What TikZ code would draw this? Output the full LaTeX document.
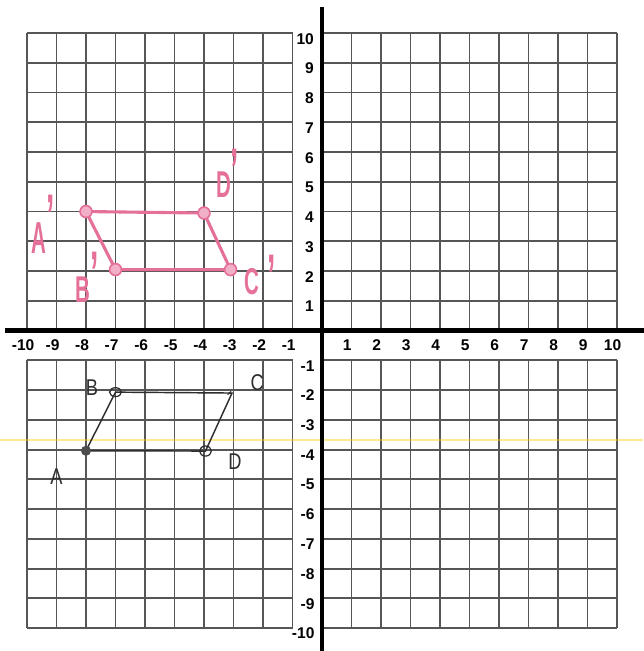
\documentclass[tikz,border=0pt]{standalone}
\usepackage{fontspec}
\setmainfont{Liberation Sans}
\definecolor{pinkpen}{HTML}{E5709A}
\definecolor{gridgray}{HTML}{565656}
\definecolor{pencil}{HTML}{2E2E2E}
\tikzset{
  gridline/.style={draw=gridgray, line width=1.8pt},
  axisline/.style={draw=black, line width=4.5pt},
  xlab/.style={font=\fontsize{15}{15}\selectfont\bfseries, inner sep=0pt, anchor=center},
  ylab/.style={font=\fontsize{15}{15}\selectfont\bfseries, inner sep=0pt, anchor=east},
  pinkedge/.style={draw=pinkpen, line width=3pt, line cap=round, line join=round},
  pinkdot/.style={draw=pinkpen, fill=pinkpen!55, line width=1.6pt},
  pinklab/.style={text=pinkpen, font=\fontsize{36}{36}\selectfont\bfseries, inner sep=0pt, xscale=0.55},
  pinkprime/.style={text=pinkpen, font=\fontsize{58}{58}\selectfont\bfseries, inner sep=0pt, xscale=0.5},
  penciledge/.style={draw=pencil, line width=1.4pt, line cap=round},
  pencillab/.style={text=pencil, font=\fontsize{22}{22}\selectfont, inner sep=0pt, xscale=0.8},
}
\begin{document}
\begin{tikzpicture}[x=1cm, y=1.0085cm]
\useasboundingbox (-10.915,-10.77) rectangle (10.88,11.11);
\fill[white] (-10.915,-10.77) rectangle (10.88,11.11);
% grid
\foreach \i in {-10,...,-1} {
  \draw[gridline] (\i,0) -- (\i,10);
  \draw[gridline] (\i,-1) -- (\i,-10);
}
\foreach \i in {1,...,10} {
  \draw[gridline] (\i,0) -- (\i,10);
  \draw[gridline] (\i,-1) -- (\i,-10);
}
\foreach \j in {1,...,10} {
  \draw[gridline] (-10,\j) -- (-1,\j);
  \draw[gridline] (0,\j) -- (10,\j);
  \draw[gridline] (-10,-\j) -- (-1,-\j);
  \draw[gridline] (0,-\j) -- (10,-\j);
}
% faint scanner streak
\draw[draw=yellow!70!orange, opacity=0.45, line width=1.2pt] (-10.915,-3.68) -- (10.88,-3.68);
% axes
\draw[axisline] (-10.75,0) -- (10.95,0);
\draw[axisline] (0,10.87) -- (0,-10.9);
% axis labels
\foreach \i in {1,...,10} {
  \node[xlab] (xp\i) at (\i-0.15,-0.49) {\i};
  \node[xlab] (xn\i) at (-\i-0.13,-0.49) {-\i};
  \node[ylab] (yp\i) at (-0.27,\i-0.19) {\i};
  \node[ylab] (yn\i) at (-0.25,-\i-0.18) {-\i};
}
% image A'B'C'D'
\coordinate (Ap) at (-8,4);
\coordinate (Bp) at (-7,2.05);
\coordinate (Cp) at (-3.1,2.05);
\coordinate (Dp) at (-4,3.95);
\draw[pinkedge] (Ap) -- (Dp) -- (Cp) -- (Bp) -- cycle;
\foreach \p in {Ap,Bp,Cp,Dp} \draw[pinkdot] (\p) circle (0.2);
\node[pinklab, yscale=1.2] (lA) at (-9.6,3.1) {A};
\node[pinkprime] (lAq) at (-9.2,3.85) {'};
\node[pinklab] (lB) at (-8.1,1.36) {B};
\node[pinkprime] (lBq) at (-7.72,1.95) {'};
\node[pinklab] (lC) at (-2.37,1.63) {C};
\node[pinkprime] (lCq) at (-1.7,1.85) {'};
\node[pinklab] (lD) at (-3.32,4.9) {D};
\node[pinkprime] (lDq) at (-2.95,5.4) {'};
% preimage ABCD
\coordinate (A) at (-8,-4.04);
\coordinate (B) at (-7,-2.07);
\coordinate (C) at (-3.05,-2.1);
\coordinate (D) at (-3.95,-4.05);
\draw[penciledge] (A) -- (B) -- (C) -- (D) -- cycle;
\fill[pencil!85] (A) circle (0.17);
\draw[pencil, line width=1.2pt] (B) ellipse (0.2 and 0.15);
\draw[pencil, line width=1.2pt] (D) ellipse (0.2 and 0.17);
\draw[pencil, line width=1.2pt] (C) ++(-0.15,-0.05) -- ++(0.12,0.1);
\node[pencillab] (lPA) at (-9.0,-4.9) {A};
\node[pencillab] (lPB) at (-7.8,-1.93) {B};
\node[pencillab] (lPC) at (-2.2,-1.75) {C};
\node[pencillab] (lPD) at (-2.95,-4.42) {D};
\end{tikzpicture}
\end{document}
